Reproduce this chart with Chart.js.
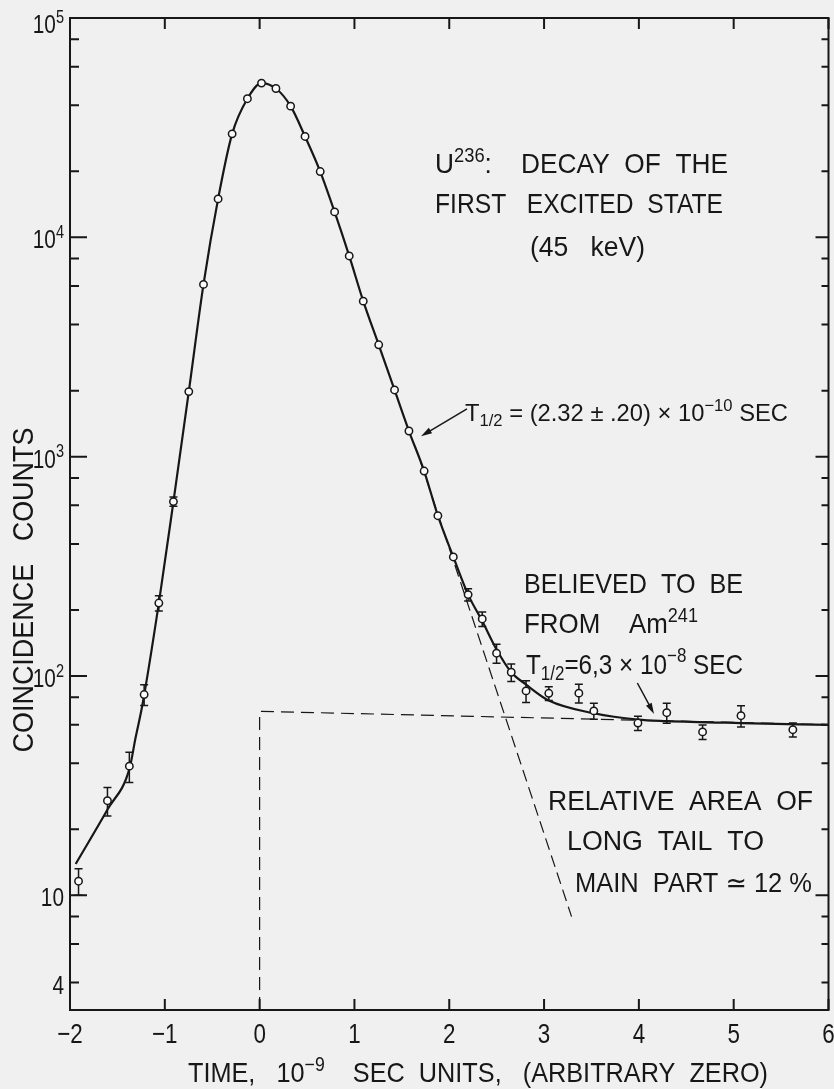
<!DOCTYPE html>
<html>
<head>
<meta charset="utf-8">
<title>U236: decay of the first excited state</title>
<script src="https://cdn.jsdelivr.net/npm/chart.js@4.4.1/dist/chart.umd.min.js"></script>
<style>
  html, body { margin: 0; padding: 0; background: #f0f0f0; }
  canvas { display: block; }
</style>
</head>
<body>
<canvas id="decay" width="834" height="1089"></canvas>
<script>
// Delayed-coincidence time spectrum of the 45 keV level (open circles)
const timeNs = [-1.91, -1.605, -1.374, -1.218, -1.063, -0.909, -0.747, -0.592, -0.438, -0.290,
  -0.129, 0.020, 0.172, 0.327, 0.479, 0.639, 0.791, 0.945, 1.093, 1.256,
  1.423, 1.575, 1.735, 1.880, 2.043, 2.199, 2.348, 2.499, 2.654, 2.810,
  3.050, 3.367, 3.525, 3.990, 4.294, 4.672, 5.077, 5.624];
const counts = [11.6, 27.0, 38.8, 82.3, 215, 624, 1980, 6100, 14970, 29630,
  42850, 50500, 47700, 39640, 28840, 19950, 13060, 8225, 5117, 3236,
  2014, 1309, 860, 538, 349, 235, 182, 127, 104, 85.5,
  83.4, 83.5, 69.3, 61.0, 68.0, 55.6, 65.9, 56.9];
// statistical uncertainty (null where the bar hides inside the circle)
const countErr = [1.6, 4.0, 6.1, 9.0, 17, 30, null, null, null, null,
  null, null, null, null, null, null, null, null, null, null,
  null, null, null, null, null, 15, 14, 12.6, 9.5, 9.7,
  6.0, 8.1, 5.8, 4.6, 7.1, 4.2, 7.3, 4.2];

// smooth curve drawn through the spectrum
const curveTimeNs = [-1.94, -1.60, -1.374, -1.308, -1.237, -1.063, -0.909, -0.747, -0.592, -0.438,
  -0.290, -0.129, 0.020, 0.172, 0.327, 0.479, 0.639, 0.791, 0.945, 1.093,
  1.256, 1.423, 1.575, 1.735, 1.880, 2.043, 2.199, 2.348, 2.499, 2.654,
  2.810, 3.050, 3.525, 3.990, 4.294, 5.077, 6.0];
const curveCounts = [13.9, 24.8, 37.6, 52.4, 73.5, 215, 624, 1980, 6100, 14970,
  29630, 42850, 50500, 47700, 39640, 28840, 19950, 13060, 8225, 5117,
  3236, 2014, 1309, 860, 538, 349, 235, 178, 132, 104,
  91.4, 77.3, 67.6, 63.2, 62.3, 61.0, 59.8];

// extrapolated short-lived slope, T1/2 = 2.32e-10 s
const slopeTimeNs = [1.70, 3.29];
const slopeCounts = [940, 8.0];

// long-lived component (Am241) and its onset at t = 0
const tailTimeNs = [0, 0, 6];
const tailCounts = [3, 69, 60];

// axis ticks
const xTickValues = [-2, -1, 0, 1, 2, 3, 4, 5, 6];
const yMajorTicks = [10, 100, 1000, 10000, 100000];
const yMinorTicks = [4, 6, 8, 20, 40, 60, 80, 200, 400, 600, 800,
  2000, 4000, 6000, 8000, 20000, 40000, 60000, 80000];
const yLabelValues = [100000, 10000, 1000, 100, 10, 4];
const yLabelBase = ['10', '10', '10', '10', '10', '4'];
const yLabelExp = ['5', '4', '3', '2', '', ''];

const INK = '#171717';
const PAPER = '#f0f0f0';
const FACE = '"Liberation Sans", Arial, "DejaVu Sans", sans-serif';

function segFont(size, kind) {
  const s = kind ? size * 0.7 : size;
  return s.toFixed(1) + 'px ' + FACE;
}
function segsWidth(ctx, segs, size) {
  let w = 0;
  for (const [txt, kind] of segs) {
    ctx.font = segFont(size, kind);
    w += ctx.measureText(txt).width;
  }
  return w;
}
// draws a line of text with optional super/subscripts, squeezed horizontally
function drawSegs(ctx, segs, x, y, size, width, align, squeeze) {
  const natural = segsWidth(ctx, segs, size);
  const sx = width ? width / natural : (squeeze || 0.8);
  const total = natural * sx;
  const x0 = align === 'center' ? x - total / 2 : align === 'right' ? x - total : x;
  ctx.save();
  ctx.translate(x0, y);
  ctx.scale(sx, 1);
  ctx.fillStyle = INK;
  ctx.textAlign = 'left';
  ctx.textBaseline = 'alphabetic';
  let cx = 0;
  for (const [txt, kind] of segs) {
    ctx.font = segFont(size, kind);
    const dy = kind === 'sup' ? -size * 0.4 : kind === 'sub' ? size * 0.22 : 0;
    ctx.fillText(txt, cx, dy);
    cx += ctx.measureText(txt).width;
  }
  ctx.restore();
}

// annotation text lines: segments, left x, baseline, width, size
const notes = [
  { segs: [['U'], ['236', 'sup'], [':    DECAY  OF  THE']], x: 435, y: 173, w: 293, size: 28.5 },
  { segs: [['FIRST   EXCITED  STATE']], x: 435, y: 213, w: 288, size: 28.5 },
  { segs: [['(45   keV)']], x: 530, y: 256, w: 115, size: 28.5 },
  { segs: [['T'], ['1/2', 'sub'], [' = (2.32 ± .20) × 10'], ['−10', 'sup'], [' SEC']], x: 465, y: 421, w: 323, size: 24 },
  { segs: [['BELIEVED  TO  BE']], x: 524, y: 593, w: 219, size: 28 },
  { segs: [['FROM    Am'], ['241', 'sup']], x: 524, y: 633, w: 174, size: 28 },
  { segs: [['T'], ['1/2', 'sub'], ['=6,3 × 10'], ['−8', 'sup'], [' SEC']], x: 526, y: 673.5, w: 217, size: 28 },
  { segs: [['RELATIVE  AREA  OF']], x: 548, y: 810, w: 265, size: 27 },
  { segs: [['LONG  TAIL  TO']], x: 567, y: 850, w: 197, size: 27 },
  { segs: [['MAIN  PART ≃ 12 %']], x: 575, y: 891.5, w: 237, size: 27 },
  { segs: [['TIME,   10'], ['−9', 'sup'], ['    SEC  UNITS,   (ARBITRARY  ZERO)']], x: 188, y: 1082, w: 580, size: 28 }
];

// arrows pointing at the curve: [tail t, tail counts, tip t, tip counts]
const arrows = [[2.187, 1652, 1.702, 1239], [3.984, 92.9, 4.160, 67.1]];

const paperPlugin = {
  id: 'paper',
  beforeDraw(chart) {
    const ctx = chart.ctx;
    ctx.save();
    ctx.fillStyle = PAPER;
    ctx.fillRect(0, 0, chart.width, chart.height);
    ctx.restore();
  }
};

const errorBarPlugin = {
  id: 'errorBars',
  beforeDatasetDraw(chart, args) {
    if (args.index !== 0) return;
    const ctx = chart.ctx, xs = chart.scales.x, ys = chart.scales.y;
    ctx.save();
    ctx.strokeStyle = INK;
    ctx.lineWidth = 1.5;
    timeNs.forEach((t, i) => {
      const e = countErr[i];
      if (e == null) return;
      const px = xs.getPixelForValue(t);
      const top = ys.getPixelForValue(counts[i] + e);
      const bot = ys.getPixelForValue(counts[i] - e);
      ctx.beginPath();
      ctx.moveTo(px, top); ctx.lineTo(px, bot);
      ctx.moveTo(px - 4, top); ctx.lineTo(px + 4, top);
      ctx.moveTo(px - 4, bot); ctx.lineTo(px + 4, bot);
      ctx.stroke();
    });
    ctx.restore();
  }
};

const framePlugin = {
  id: 'frame',
  afterDraw(chart) {
    const ctx = chart.ctx, xs = chart.scales.x, ys = chart.scales.y;
    const a = chart.chartArea;
    ctx.save();
    ctx.strokeStyle = INK;
    ctx.lineWidth = 2;
    ctx.lineCap = 'butt';
    ctx.strokeRect(a.left, a.top, a.right - a.left, a.bottom - a.top);

    // inward ticks on all four sides
    ctx.beginPath();
    xTickValues.forEach(v => {
      const px = xs.getPixelForValue(v);
      ctx.moveTo(px, a.bottom); ctx.lineTo(px, a.bottom - 11);
      ctx.moveTo(px, a.top); ctx.lineTo(px, a.top + 11);
    });
    yMajorTicks.forEach(v => {
      const py = ys.getPixelForValue(v);
      ctx.moveTo(a.left, py); ctx.lineTo(a.left + 17, py);
      ctx.moveTo(a.right, py); ctx.lineTo(a.right - 13, py);
    });
    yMinorTicks.forEach(v => {
      const py = ys.getPixelForValue(v);
      ctx.moveTo(a.left, py); ctx.lineTo(a.left + 9, py);
      ctx.moveTo(a.right, py); ctx.lineTo(a.right - 7, py);
    });
    ctx.stroke();

    // tick labels
    xTickValues.forEach(v => {
      const txt = v < 0 ? '−' + Math.abs(v) : String(v);
      drawSegs(ctx, [[txt]], xs.getPixelForValue(v), 1043, 28, null, 'center', 0.8);
    });
    yLabelValues.forEach((v, i) => {
      const py = Math.max(ys.getPixelForValue(v), a.top + 4);
      const segs = yLabelExp[i] ? [[yLabelBase[i]], [yLabelExp[i], 'sup']] : [[yLabelBase[i]]];
      drawSegs(ctx, segs, 64, py + 11, 26, null, 'right', 0.8);
    });

    // axis titles
    ctx.save();
    ctx.translate(33, 590);
    ctx.rotate(-Math.PI / 2);
    drawSegs(ctx, [['COINCIDENCE   COUNTS']], 0, 0, 30, 325, 'center');
    ctx.restore();

    // annotations
    notes.forEach(n => drawSegs(ctx, n.segs, n.x, n.y, n.size, n.w, 'left'));

    // arrows
    ctx.fillStyle = INK;
    ctx.lineWidth = 1.5;
    arrows.forEach(([t0, c0, t1, c1]) => {
      const x0 = xs.getPixelForValue(t0), y0 = ys.getPixelForValue(c0);
      const x1 = xs.getPixelForValue(t1), y1 = ys.getPixelForValue(c1);
      const ang = Math.atan2(y1 - y0, x1 - x0);
      const len = 11, half = 3.2;
      ctx.beginPath();
      ctx.moveTo(x0, y0);
      ctx.lineTo(x1 - Math.cos(ang) * len * 0.7, y1 - Math.sin(ang) * len * 0.7);
      ctx.stroke();
      ctx.beginPath();
      ctx.moveTo(x1, y1);
      ctx.lineTo(x1 - Math.cos(ang) * len - Math.sin(ang) * half, y1 - Math.sin(ang) * len + Math.cos(ang) * half);
      ctx.lineTo(x1 - Math.cos(ang) * len + Math.sin(ang) * half, y1 - Math.sin(ang) * len - Math.cos(ang) * half);
      ctx.closePath();
      ctx.fill();
    });
    ctx.restore();
  }
};

const toXY = (xsArr, ysArr) => xsArr.map((x, i) => ({ x: x, y: ysArr[i] }));

new Chart(document.getElementById('decay'), {
  type: 'scatter',
  data: {
    datasets: [
      {
        label: 'counts',
        data: toXY(timeNs, counts),
        showLine: false,
        pointRadius: 3.7,
        pointBorderWidth: 1.5,
        pointBackgroundColor: '#fafafa',
        pointBorderColor: INK
      },
      {
        label: 'curve',
        data: toXY(curveTimeNs, curveCounts),
        showLine: true,
        borderColor: INK,
        borderWidth: 2.2,
        pointRadius: 0,
        cubicInterpolationMode: 'monotone'
      },
      {
        label: 'prompt slope',
        data: toXY(slopeTimeNs, slopeCounts),
        showLine: true,
        borderColor: INK,
        borderWidth: 1.2,
        borderDash: [12, 6],
        pointRadius: 0
      },
      {
        label: 'long tail',
        data: toXY(tailTimeNs, tailCounts),
        showLine: true,
        borderColor: INK,
        borderWidth: 1.2,
        borderDash: [13, 7],
        pointRadius: 0
      }
    ]
  },
  options: {
    responsive: false,
    animation: false,
    devicePixelRatio: 1,
    events: [],
    layout: { padding: { left: 70, right: 4, top: 18, bottom: 79 } },
    scales: {
      x: { type: 'linear', min: -2, max: 6, display: false },
      y: { type: 'logarithmic', min: 3, max: 100000, display: false }
    },
    plugins: { legend: { display: false }, tooltip: { enabled: false } }
  },
  plugins: [paperPlugin, errorBarPlugin, framePlugin]
});
</script>
</body>
</html>
